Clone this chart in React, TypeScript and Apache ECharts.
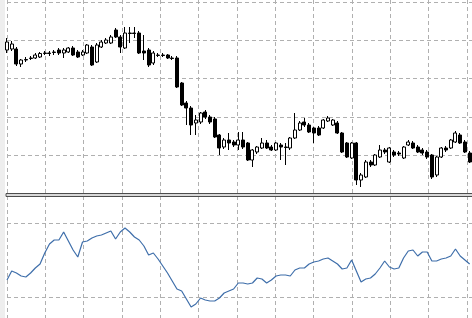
import React, { useEffect, useRef } from "react";
import * as echarts from "echarts";

// Candles: [open, close, low, high] (price units: 194 - pixel row)
const candles: number[][] = [
  [144, 152, 141, 156], [145, 150, 143, 153], [145, 130, 128, 147], [130, 134, 127, 135],
  [134, 134.5, 132, 137], [135.5, 136, 134, 138], [136, 139, 135, 141], [137, 140.5, 136, 142],
  [140.5, 141, 139, 143], [141, 140.5, 138, 143], [141.5, 142, 139, 144], [144, 141, 139, 146],
  [141, 144, 136, 146], [142, 146, 141, 147], [146, 139, 138, 148], [142, 137, 136, 144],
  [139, 142, 138, 144], [141, 149, 140, 150], [147, 129, 128, 149], [132, 149, 131, 151],
  [147, 152, 146, 154], [151, 154, 150, 156], [151, 157, 150, 159], [164, 157, 156, 166],
  [157, 147, 141, 159], [146, 161, 145, 167], [160.5, 161, 151, 167], [161, 160.5, 156, 167],
  [161, 141, 140, 163], [143, 141, 134, 159], [144, 129, 127, 146], [131, 141, 129, 143],
  [138.5, 139, 137, 141], [139, 138.5, 137, 141], [139, 136, 135, 140], [136, 135.5, 134, 138],
  [136, 107, 106, 138], [111, 89, 88, 112], [91, 86, 69, 93], [86, 69, 59, 88],
  [71, 74, 59, 79], [72, 81, 70, 82], [82, 77, 75, 84], [77, 72, 70, 79],
  [75, 57, 56, 77], [59, 46, 39, 60], [47, 54, 45, 56], [54, 51, 44, 61],
  [52, 49, 47, 54], [49, 54, 44, 62], [54, 47, 45, 62], [51, 34, 33, 52],
  [34, 44, 27, 45], [42, 47, 40, 48], [46, 51, 45, 56], [51, 46, 45, 54],
  [47, 44, 43, 49], [44, 51, 43, 52], [49, 47, 34, 51], [47, 46.5, 29, 51],
  [46, 56, 44, 57], [56, 64, 55, 81], [64, 71, 63, 73], [72, 69, 67, 76],
  [69, 62, 61, 71], [66, 61, 51, 67], [66, 59, 58, 68], [66, 74, 65, 75],
  [73, 76, 72, 78], [69, 74, 68, 75], [71, 61, 60, 73], [61, 42, 41, 62],
  [51, 37, 36, 52], [36, 51, 35, 52], [51, 14, 9, 52], [14, 19, 7, 21],
  [17, 32, 16, 34], [32, 29, 27, 34], [29, 39, 28, 40], [37, 44, 36, 49],
  [44, 42, 40, 46], [32, 46, 31, 47], [42, 39, 37, 44], [41, 40, 38, 43],
  [36, 47, 35, 48], [49, 52, 48, 54], [51, 46, 45, 53], [47, 42, 41, 49],
  [44, 41, 39, 46], [42, 37, 35, 44], [39, 17, 15, 40], [19, 37, 17, 38],
  [37, 46, 36, 47], [46, 44, 42, 48], [46, 54, 45, 55], [52, 61, 51, 63],
  [59, 51, 50, 61], [52, 42, 41, 54], [41, 32, 31, 43],
];

// Indicator line (lower pane), one value per bar
const indicator: number[] = [
  38, 47, 45, 42, 41, 45, 50, 54, 65, 74, 78, 78, 86, 77, 68, 61, 76, 77, 80, 82,
  83, 85, 87, 79, 86, 90, 86, 81, 78, 72, 63, 65, 59, 52, 45, 37, 29, 27, 19, 11,
  14, 20, 18, 17, 17, 20, 25, 27, 29, 35, 35, 34, 35, 40, 39, 35, 38, 42, 43, 43,
  42, 48, 50, 50, 54, 56, 57, 59, 60, 57, 54, 49, 50, 58, 47, 36, 39, 40, 44, 50,
  57, 51, 49, 50, 60, 67, 68, 62, 66, 66, 57, 57, 59, 60, 62, 69, 62, 58, 54,
];

const categories: string[] = candles.map((_, i) => String(i + 1));

const GRID_COLOR = "#b0b0b0";
const DASH = [4, 3];

export default function App() {
  const ref = useRef<HTMLDivElement>(null);

  useEffect(() => {
    if (!ref.current) return;
    const chart = echarts.init(ref.current, undefined, { renderer: "svg" });
    const n = categories.length;
    const step = 4.735;
    const dataLeft = 7 - step / 2;
    const dataWidth = step * n;

    const splitStyle = { show: true, lineStyle: { color: GRID_COLOR, width: 1, type: DASH } };
    const noAxisBits = { axisLine: { show: false }, axisTick: { show: false }, axisLabel: { show: false } };

    chart.setOption({
      animation: false,
      backgroundColor: "#ffffff",
      grid: [
        { left: 7, width: 460, top: 0, height: 318 },
        { left: 7, right: 0, top: 2, height: 191.7 },
        { left: 7, right: 0, top: 223, height: 74.4 },
        { left: dataLeft, width: dataWidth, top: 2, height: 192 },
        { left: dataLeft, width: dataWidth, top: 197, height: 121 },
      ],
      xAxis: [
        { gridIndex: 0, type: "value", min: 0, max: 12, interval: 1, ...noAxisBits, splitLine: splitStyle },
        { gridIndex: 1, type: "value", min: 0, max: 1, show: false },
        { gridIndex: 2, type: "value", min: 0, max: 1, show: false },
        { gridIndex: 3, type: "category", data: categories, show: false },
        { gridIndex: 4, type: "category", data: categories, show: false },
      ],
      yAxis: [
        { gridIndex: 0, type: "value", min: 0, max: 1, show: false },
        { gridIndex: 1, type: "value", min: 0, max: 5, interval: 1, ...noAxisBits, splitLine: splitStyle },
        { gridIndex: 2, type: "value", min: 0, max: 1, interval: 1, ...noAxisBits, splitLine: splitStyle },
        { gridIndex: 3, type: "value", min: 0, max: 192, show: false },
        { gridIndex: 4, type: "value", min: 0, max: 121, show: false },
      ],
      series: [
        {
          type: "candlestick",
          xAxisIndex: 3,
          yAxisIndex: 3,
          data: candles,
          barWidth: 3.5,
          itemStyle: {
            color: "#ffffff",
            color0: "#000000",
            borderColor: "#000000",
            borderColor0: "#000000",
            borderWidth: 1,
          },
          z: 5,
        },
        {
          type: "line",
          xAxisIndex: 4,
          yAxisIndex: 4,
          data: indicator,
          showSymbol: false,
          symbol: "none",
          lineStyle: { color: "#3e6eaa", width: 1.2 },
          z: 5,
        },
      ],
      graphic: [
        { type: "rect", shape: { x: 0, y: 0, width: 5, height: 318 }, style: { fill: "#eeeeee" }, z: 10 },
        { type: "rect", shape: { x: 6, y: 193.5, width: 470, height: 3 }, style: { fill: "#d9d9d9", stroke: "#4d4d4d", lineWidth: 1 }, z: 10 },
      ],
    });
    return () => chart.dispose();
  }, []);

  return (
    <div
      ref={ref}
      style={{ position: "fixed", left: 0, top: 0, width: 472, height: 318, background: "#fff" }}
    />
  );
}
